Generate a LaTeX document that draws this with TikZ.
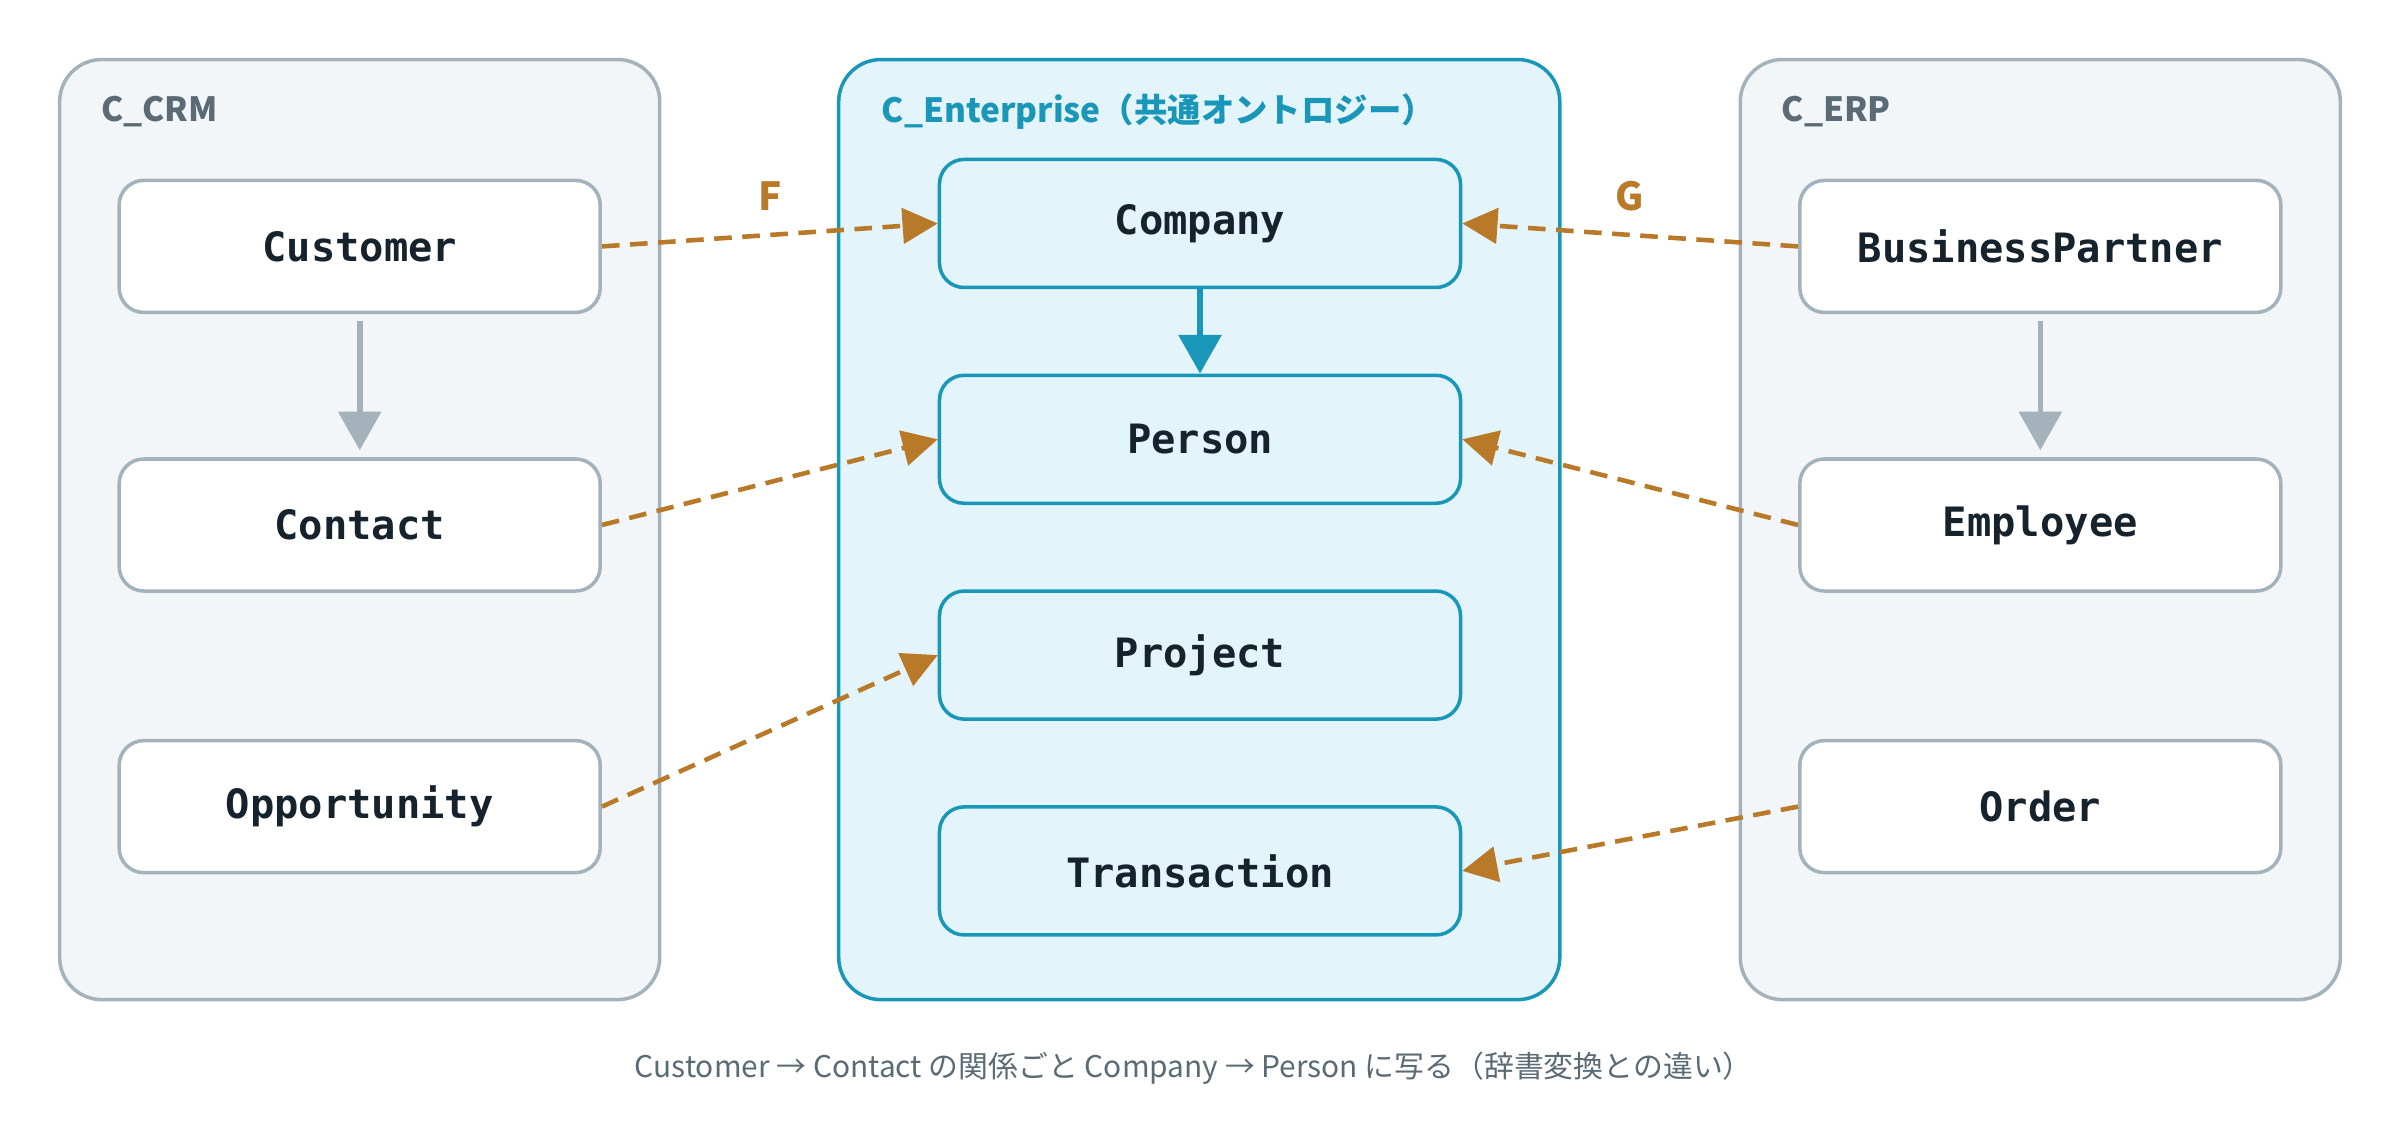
\documentclass[tikz,border=0pt]{standalone}
\usepackage{fontspec}
\setmainfont{Noto Sans CJK JP}
\newfontfamily\monofont{DejaVu Sans Mono}
\usetikzlibrary{arrows.meta}
\definecolor{panelfill}{HTML}{F2F6F9}
\definecolor{panelline}{HTML}{A3B2BB}
\definecolor{entfill}{HTML}{E3F4FA}
\definecolor{entline}{HTML}{1A96B8}
\definecolor{mapline}{HTML}{B87A28}
\definecolor{inktext}{HTML}{16222C}
\definecolor{paneltext}{HTML}{5A6B75}
\tikzset{
    panel/.style = {
        draw=panelline, fill=panelfill, rounded corners=12pt, line width=1pt,
        minimum width=6cm, minimum height=9.4cm, inner sep=0pt
    },
    entpanel/.style = {
        panel, draw=entline, fill=entfill, minimum width=7.21cm
    },
    concept/.style = {
        draw=panelline, fill=white, rounded corners=7pt, line width=1pt,
        minimum width=4.81cm, minimum height=1.32cm, font=\monofont\bfseries\fontsize{11.5}{13}\selectfont,
        text=inktext
    },
    entconcept/.style = {
        concept, draw=entline, fill=entfill, minimum width=5.21cm, minimum height=1.28cm
    },
    title/.style = {anchor=west, font=\bfseries\fontsize{9.5}{12}\selectfont, text=paneltext},
    mapto/.style = {draw=mapline, line width=1.3pt, dash pattern=on 5pt off 3pt,
        -{Triangle[length=10pt,width=10pt]}},
}
\begin{document}
\begin{tikzpicture}[x=0.01531cm, y=-0.01531cm]
        % bounding box
        \useasboundingbox (0,0) rectangle (1568,732);

        % panels
        \node [panel] (crm) at (235,346) {};
        \node [entpanel] (ent) at (783.5,346) {};
        \node [panel] (erp) at (1333,346) {};
        \node [title] (crmtitle) at (58,73) {C\_CRM};
        \node [title, text=entline] (enttitle) at (568,73) {C\_Enterprise（共通オントロジー）};
        \node [title] (erptitle) at (1156,73) {C\_ERP};

        % concepts
        \node [concept] (customer) at (235,161) {Customer};
        \node [concept] (contact) at (235,343) {Contact};
        \node [concept] (opportunity) at (235,527) {Opportunity};
        \node [entconcept] (company) at (784,146) {Company};
        \node [entconcept] (person) at (784,287) {Person};
        \node [entconcept] (project) at (784,428) {Project};
        \node [entconcept] (transaction) at (784,569) {Transaction};
        \node [concept] (partner) at (1333,161) {BusinessPartner};
        \node [concept] (employee) at (1333,343) {Employee};
        \node [concept] (order) at (1333,527) {Order};

        % inner relations
        \draw [panelline, line width=1.6pt, -{Triangle[length=11pt,width=12pt]}] ([yshift=-2pt]customer.south) -- ([yshift=2pt]contact.north);
        \draw [panelline, line width=1.6pt, -{Triangle[length=11pt,width=12pt]}] ([yshift=-2pt]partner.south) -- ([yshift=2pt]employee.north);
        \draw [entline, line width=1.6pt, -{Triangle[length=11pt,width=12pt]}] (company.south) -- (person.north);

        % functors
        \draw [mapto] (customer.east) -- (company.west);
        \draw [mapto] (contact.east) -- (person.west);
        \draw [mapto] (opportunity.east) -- (project.west);
        \draw [mapto] (partner.west) -- (company.east);
        \draw [mapto] (employee.west) -- (person.east);
        \draw [mapto] (order.west) -- (transaction.east);
        \node [font=\bfseries\fontsize{11}{13}\selectfont, text=mapline] (flabel) at (503,128) {F};
        \node [font=\bfseries\fontsize{11}{13}\selectfont, text=mapline] (glabel) at (1065,128) {G};

        % caption
        \node [font=\fontsize{8.5}{11}\selectfont, text=paneltext] (caption) at (780,698)
            {Customer → Contact の関係ごと Company → Person に写る（辞書変換との違い）};
\end{tikzpicture}
\end{document}
